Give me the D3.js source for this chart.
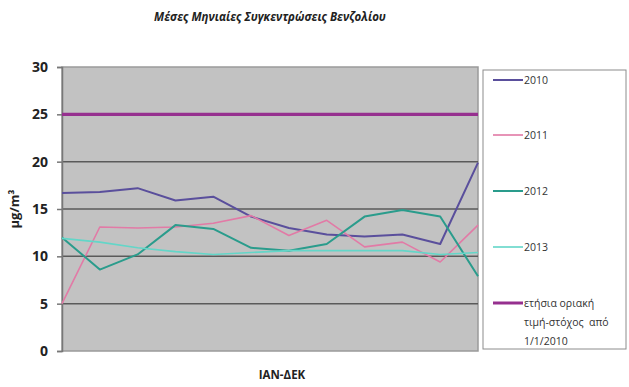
<!DOCTYPE html>
<html>
<head>
<meta charset="utf-8">
<script src="https://cdn.jsdelivr.net/npm/d3@7"></script>
<style>
  html, body { margin: 0; padding: 0; background: #ffffff; }
  svg { display: block; }
  text { font-family: "Open Sans", "Liberation Sans", sans-serif; }
</style>
</head>
<body>
<svg id="chart" width="629" height="387"></svg>
<script>
// Monthly mean benzene concentrations (μg/m³), January–December
const months = ["ΙΑΝ","ΦΕΒ","ΜΑΡ","ΑΠΡ","ΜΑΪ","ΙΟΥΝ","ΙΟΥΛ","ΑΥΓ","ΣΕΠ","ΟΚΤ","ΝΟΕ","ΔΕΚ"];
const values2010 = [16.7, 16.8, 17.2, 15.9, 16.3, 14.2, 13.0, 12.3, 12.1, 12.3, 11.3, 19.9];
const values2011 = [5.0, 13.1, 13.0, 13.1, 13.5, 14.3, 12.2, 13.8, 11.0, 11.5, 9.4, 13.3];
const values2012 = [12.0, 8.6, 10.2, 13.3, 12.9, 10.9, 10.6, 11.3, 14.2, 14.9, 14.2, 7.9];
const values2013 = [11.9, 11.5, 10.9, 10.5, 10.2, 10.4, 10.6, 10.6, 10.6, 10.6, 10.2, 10.4];
const limitValue = 25;
const yTicks = [0, 5, 10, 15, 20, 25, 30];

const seriesNames = ["2010", "2011", "2012", "2013"];
const seriesValues = [values2010, values2011, values2012, values2013];
const seriesColors = ["#5a4f9c", "#e27aa6", "#2a9c8c", "#63d6c8"];
const seriesWidths = [2, 1.6, 2, 1.6];
const limitLabel = ["ετήσια οριακή", "τιμή-στόχος  από", "1/1/2010"];
const limitColor = "#96308f";

const svg = d3.select("#chart");
const plot = { left: 62, right: 478, top: 67, bottom: 351 };

const x = d3.scalePoint().domain(months).range([plot.left, plot.right]);
const y = d3.scaleLinear().domain([0, 30]).range([plot.bottom, plot.top]);

// Title
svg.append("text")
  .attr("x", 270).attr("y", 21)
  .attr("text-anchor", "middle")
  .attr("font-size", 11.5).attr("font-weight", "bold").attr("font-style", "italic")
  .attr("fill", "#222")
  .text("Μέσες Μηνιαίες Συγκεντρώσεις Βενζολίου");

// Plot background
svg.append("rect")
  .attr("x", plot.left).attr("y", plot.top)
  .attr("width", plot.right - plot.left).attr("height", plot.bottom - plot.top)
  .attr("fill", "#c2c2c2").attr("stroke", "#9a9a9a").attr("stroke-width", 1.5);

// Horizontal gridlines
svg.append("g").selectAll("line")
  .data(yTicks.filter(t => t > 0 && t < 30))
  .join("line")
  .attr("x1", plot.left).attr("x2", plot.right)
  .attr("y1", d => y(d)).attr("y2", d => y(d))
  .attr("stroke", "#5a5a5a").attr("stroke-width", 1.5);

// Y axis
const yAxis = svg.append("g")
  .attr("transform", `translate(${plot.left},0)`)
  .call(d3.axisLeft(y).tickValues(yTicks).tickSize(5).tickPadding(9));
yAxis.select(".domain").attr("stroke", "#777").attr("stroke-width", 1.5);
yAxis.selectAll(".tick line").attr("stroke", "#777").attr("stroke-width", 1.5);
yAxis.selectAll(".tick text")
  .attr("font-size", 14).attr("font-weight", "bold").attr("fill", "#222")
  .attr("font-family", "'Open Sans', 'Liberation Sans', sans-serif");

// Y axis title
svg.append("text")
  .attr("transform", "translate(19,209) rotate(-90)")
  .attr("text-anchor", "middle")
  .attr("font-size", 13).attr("font-weight", "bold").attr("fill", "#222")
  .text("μg/m³");

// X axis title
svg.append("text")
  .attr("x", 282).attr("y", 379)
  .attr("text-anchor", "middle")
  .attr("font-size", 11.5).attr("font-weight", "bold").attr("fill", "#222")
  .text("ΙΑΝ-ΔΕΚ");

// Annual limit value line
svg.append("line")
  .attr("x1", plot.left).attr("x2", plot.right)
  .attr("y1", y(limitValue)).attr("y2", y(limitValue))
  .attr("stroke", limitColor).attr("stroke-width", 3.2);

// Series lines
const line = d3.line().x((d, i) => x(months[i])).y(d => y(d));
svg.append("g").selectAll("path")
  .data(seriesValues)
  .join("path")
  .attr("d", d => line(d))
  .attr("fill", "none")
  .attr("stroke", (d, i) => seriesColors[i])
  .attr("stroke-width", (d, i) => seriesWidths[i])
  .attr("stroke-linejoin", "round");

// Legend
const legend = svg.append("g");
legend.append("rect")
  .attr("x", 483).attr("y", 70).attr("width", 143).attr("height", 279)
  .attr("fill", "#ffffff").attr("stroke", "#8c8c8c").attr("stroke-width", 1);

const legendY = [80, 135, 191, 247];
seriesNames.forEach((name, i) => {
  legend.append("line")
    .attr("x1", 493).attr("x2", 523)
    .attr("y1", legendY[i]).attr("y2", legendY[i])
    .attr("stroke", seriesColors[i]).attr("stroke-width", seriesWidths[i]);
  legend.append("text")
    .attr("x", 524).attr("y", legendY[i] + 4)
    .attr("font-size", 10.5).attr("fill", "#333")
    .text(name);
});
legend.append("line")
  .attr("x1", 493).attr("x2", 523)
  .attr("y1", 303).attr("y2", 303)
  .attr("stroke", limitColor).attr("stroke-width", 3);
limitLabel.forEach((t, j) => {
  legend.append("text")
    .attr("x", 524).attr("y", 307 + j * 19)
    .attr("font-size", 10.5).attr("fill", "#333")
    .attr("xml:space", "preserve")
    .text(t);
});
</script>
</body>
</html>
